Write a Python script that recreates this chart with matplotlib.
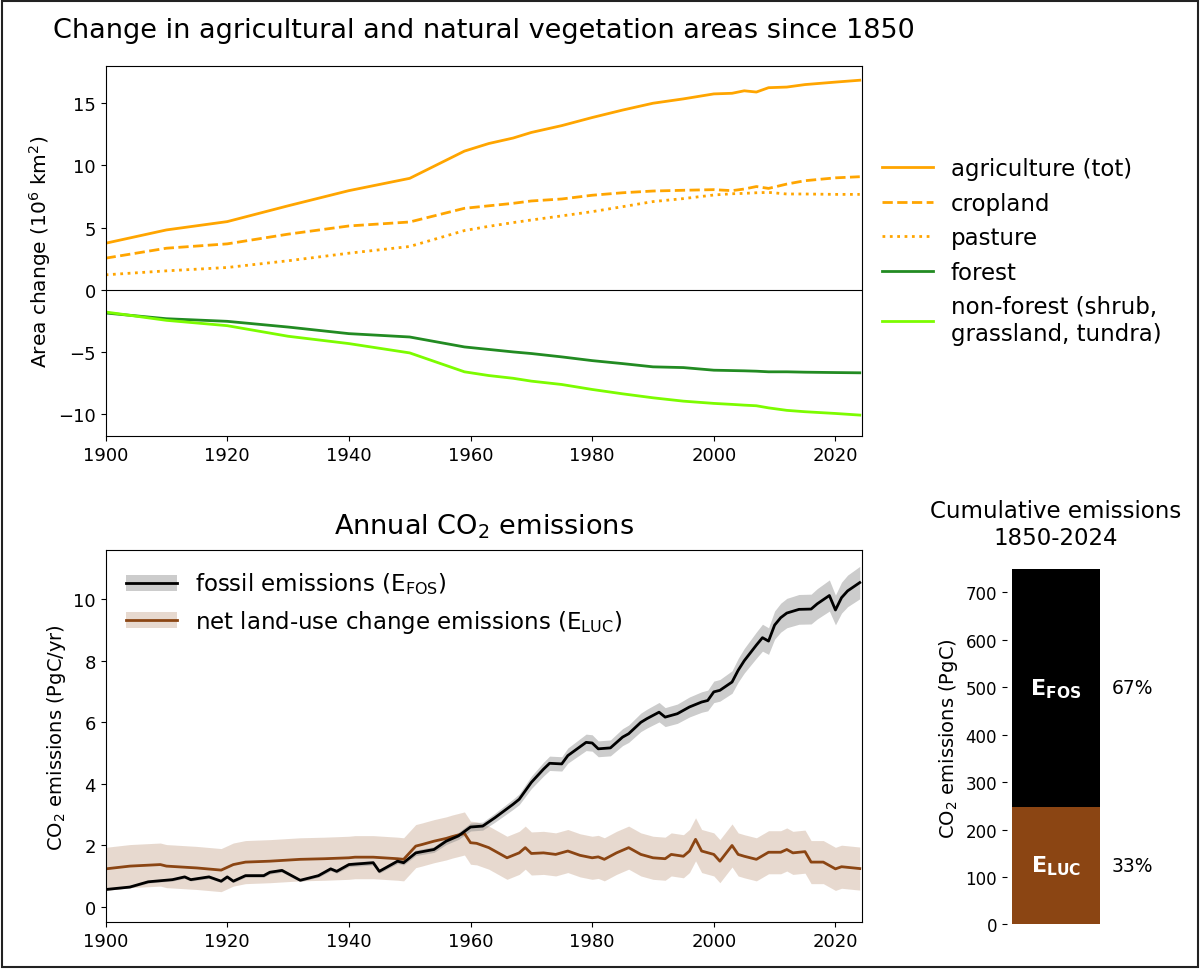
import numpy as np
import matplotlib.pyplot as plt
from matplotlib.patches import Patch, Rectangle
from matplotlib.lines import Line2D

# ----------------------
# Land-use area change (10^6 km2), relative to 1850
# ----------------------
land_years = [1900, 1910, 1920, 1930, 1940, 1950, 1959, 1963, 1967, 1970, 1975, 1980,
              1985, 1990, 1995, 2000, 2003, 2005, 2007, 2009, 2012, 2015, 2020, 2024]
agriculture = [3.74, 4.81, 5.48, 6.75, 7.97, 8.96, 11.15, 11.76, 12.2, 12.65, 13.2, 13.85,
               14.45, 15.0, 15.35, 15.75, 15.8, 16.0, 15.9, 16.25, 16.3, 16.5, 16.7, 16.85]
cropland = [2.54, 3.34, 3.69, 4.47, 5.13, 5.45, 6.55, 6.75, 6.95, 7.14, 7.3, 7.6,
            7.8, 7.94, 8.0, 8.05, 7.97, 8.1, 8.3, 8.15, 8.5, 8.77, 9.0, 9.09]
pasture = [1.2, 1.52, 1.79, 2.33, 2.94, 3.48, 4.76, 5.1, 5.4, 5.61, 5.94, 6.28,
           6.68, 7.09, 7.33, 7.62, 7.72, 7.75, 7.8, 7.83, 7.7, 7.7, 7.67, 7.67]
forest = [-1.87, -2.33, -2.54, -3.0, -3.53, -3.8, -4.6, -4.8, -5.0, -5.13, -5.4, -5.7,
          -5.94, -6.2, -6.26, -6.47, -6.5, -6.52, -6.55, -6.6, -6.6, -6.63, -6.66, -6.68]
nonforest = [-1.79, -2.46, -2.89, -3.74, -4.33, -5.08, -6.6, -6.9, -7.12, -7.35, -7.62, -8.02,
             -8.37, -8.69, -8.96, -9.14, -9.22, -9.28, -9.33, -9.5, -9.7, -9.81, -9.95, -10.08]

# ----------------------
# Annual emissions (PgC/yr)
# ----------------------
fos_years = [1900, 1904, 1907, 1911, 1913, 1914, 1917, 1919, 1920, 1921, 1923, 1926, 1927,
             1929, 1932, 1935, 1937, 1938, 1940, 1944, 1945, 1948, 1949, 1951, 1954, 1956,
             1958, 1960, 1962, 1964, 1967, 1968, 1970, 1972, 1973, 1975, 1976, 1979, 1980,
             1981, 1983, 1985, 1986, 1988, 1989, 1991, 1992, 1994, 1996, 1998, 1999, 2000,
             2001, 2003, 2004, 2005, 2007, 2008, 2009, 2010, 2011, 2012, 2014, 2016, 2017,
             2019, 2020, 2021, 2022, 2024]
fos = [0.57, 0.65, 0.82, 0.89, 0.98, 0.89, 0.98, 0.84, 0.98, 0.84, 1.02, 1.02, 1.13,
       1.19, 0.87, 1.02, 1.24, 1.16, 1.38, 1.44, 1.16, 1.49, 1.44, 1.76, 1.87, 2.14,
       2.31, 2.6, 2.63, 2.9, 3.34, 3.5, 4.05, 4.48, 4.67, 4.65, 4.92, 5.35, 5.33,
       5.14, 5.17, 5.52, 5.63, 6.0, 6.12, 6.33, 6.17, 6.28, 6.5, 6.66, 6.71, 6.99,
       7.04, 7.31, 7.69, 8.0, 8.51, 8.75, 8.64, 9.16, 9.4, 9.55, 9.67, 9.68, 9.85,
       10.12, 9.65, 10.05, 10.27, 10.54]
fos_rel_unc = 0.05   # +-5% uncertainty on fossil emissions

luc_years = [1900, 1904, 1909, 1910, 1915, 1919, 1921, 1923, 1927, 1932, 1936, 1940, 1941,
             1944, 1948, 1949, 1951, 1952, 1954, 1956, 1957, 1959, 1960, 1961, 1963, 1964,
             1966, 1968, 1969, 1970, 1972, 1974, 1976, 1978, 1980, 1981, 1982, 1984, 1986,
             1988, 1990, 1992, 1993, 1995, 1996, 1997, 1998, 2000, 2001, 2003, 2004, 2005,
             2007, 2009, 2011, 2012, 2013, 2015, 2016, 2018, 2020, 2021, 2024]
luc = [1.24, 1.33, 1.38, 1.33, 1.27, 1.2, 1.38, 1.46, 1.49, 1.55, 1.57, 1.6, 1.62,
       1.62, 1.57, 1.55, 1.98, 2.03, 2.14, 2.23, 2.29, 2.39, 2.09, 2.07, 1.93, 1.82,
       1.6, 1.76, 1.93, 1.74, 1.76, 1.71, 1.82, 1.68, 1.6, 1.63, 1.55, 1.76, 1.93,
       1.71, 1.6, 1.57, 1.71, 1.65, 1.82, 2.2, 1.82, 1.71, 1.49, 2.0, 1.71, 1.65,
       1.55, 1.78, 1.78, 1.87, 1.76, 1.8, 1.46, 1.46, 1.24, 1.31, 1.25]
luc_unc = 0.7   # +-0.7 PgC/yr

# ----------------------
# Cumulative emissions 1850-2024 (PgC)
# ----------------------
cum_luc = 248
cum_fos = 502

c_agri = "orange"
c_forest = "forestgreen"
c_nonforest = "lawngreen"
c_luc = "#8B4513"

fig = plt.figure(figsize=(12, 9.7), dpi=100)

# ----------------------
# 1. Area change panel
# ----------------------
ax1 = fig.add_axes([0.088, 0.549, 0.630, 0.382])
ax1.plot(land_years, agriculture, color=c_agri, lw=2, label="agriculture (tot)")
ax1.plot(land_years, cropland, color=c_agri, lw=2, ls="--", label="cropland")
ax1.plot(land_years, pasture, color=c_agri, lw=2, ls=":", label="pasture")
ax1.plot(land_years, forest, color=c_forest, lw=2, label="forest")
ax1.plot(land_years, nonforest, color=c_nonforest, lw=2,
         label="non-forest (shrub,\ngrassland, tundra)")
ax1.axhline(0, color="k", lw=0.8)
ax1.set_xlim(1900, 2024.3)
ax1.set_ylim(-11.8, 18.0)
ax1.set_ylabel("Area change (10$^6$ km$^2$)", fontsize=14.5)
ax1.set_title("Change in agricultural and natural vegetation areas since 1850",
              fontsize=19.5, pad=21)
ax1.tick_params(labelsize=13)
ax1.legend(loc="center left", bbox_to_anchor=(1.0, 0.5), frameon=False,
           fontsize=16.5, handlelength=2.2)

# ----------------------
# 2. Annual emissions panel
# ----------------------
ax2 = fig.add_axes([0.088, 0.048, 0.630, 0.384])
fos_a = np.array(fos)
luc_a = np.array(luc)
ax2.fill_between(luc_years, luc_a - luc_unc, luc_a + luc_unc, color=c_luc, alpha=0.2, lw=0)
ax2.fill_between(fos_years, fos_a * (1 - fos_rel_unc), fos_a * (1 + fos_rel_unc),
                 color="grey", alpha=0.4, lw=0)
ax2.plot(luc_years, luc, color=c_luc, lw=2)
ax2.plot(fos_years, fos, color="k", lw=2)
ax2.set_xlim(1900, 2024.3)
ax2.set_ylim(-0.5, 11.6)
ax2.set_ylabel("CO$_2$ emissions (PgC/yr)", fontsize=14)
ax2.set_title("Annual CO$_2$ emissions", fontsize=19.5, pad=12)
ax2.tick_params(labelsize=13)
handles = [(Patch(color="grey", alpha=0.4, lw=0), Line2D([], [], color="k", lw=2)),
           (Patch(color=c_luc, alpha=0.2, lw=0), Line2D([], [], color=c_luc, lw=2))]
ax2.legend(handles, ["fossil emissions (E$_\\mathregular{FOS}$)",
                     "net land-use change emissions (E$_\\mathregular{LUC}$)"],
           loc="upper left", frameon=False, fontsize=16.5, handlelength=2.2)

# ----------------------
# 3. Cumulative bar
# ----------------------
ax3 = fig.add_axes([0.839, 0.046, 0.082, 0.385])
ax3.bar(0, cum_luc, width=0.9, color=c_luc)
ax3.bar(0, cum_fos, bottom=cum_luc, width=0.9, color="k")
ax3.set_xlim(-0.5, 0.5)
ax3.set_xticks([])
for s in ax3.spines.values():
    s.set_visible(False)
ax3.set_ylabel("CO$_2$ emissions (PgC)", fontsize=14)
ax3.set_title("Cumulative emissions\n1850-2024", fontsize=16.5, pad=5)
ax3.tick_params(labelsize=12)
ax3.text(0, cum_luc + cum_fos / 2, r"$\mathbf{E_{FOS}}$", color="white",
         ha="center", va="center", fontsize=16)
ax3.text(0, cum_luc / 2, r"$\mathbf{E_{LUC}}$", color="white",
         ha="center", va="center", fontsize=16)
total = cum_luc + cum_fos
ax3.text(0.78, cum_luc + cum_fos / 2, f"{round(100 * cum_fos / total)}%",
         ha="center", va="center", fontsize=13.5, clip_on=False)
ax3.text(0.78, cum_luc / 2, f"{round(100 * cum_luc / total)}%",
         ha="center", va="center", fontsize=13.5, clip_on=False)

# frame around figure
fig.patches.append(Rectangle((0.002, 0.002), 0.996, 0.996, transform=fig.transFigure,
                             fill=False, edgecolor="#222222", lw=1.5))

fig.savefig("out.png", dpi=100)
